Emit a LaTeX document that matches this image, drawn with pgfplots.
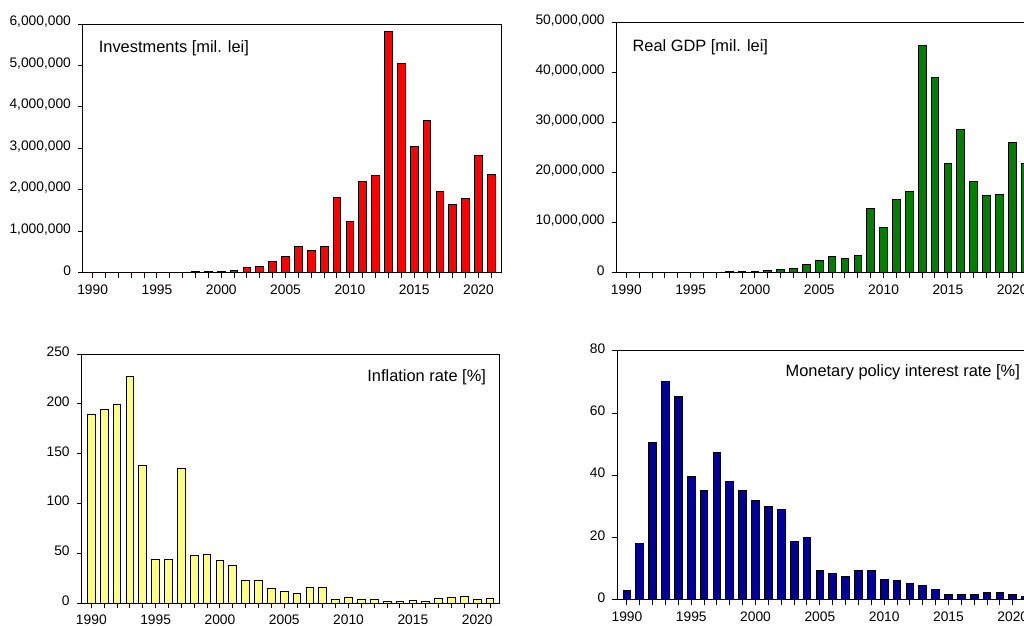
\documentclass[border=0pt]{standalone}
\usepackage{fontspec}
\setmainfont{Liberation Sans}
\usepackage{pgfplots}
\pgfplotsset{compat=1.18}
\definecolor{barred}{HTML}{FF0000}
\definecolor{bargreen}{HTML}{007F00}
\definecolor{baryellow}{HTML}{FFFF80}
\definecolor{barblue}{HTML}{000099}
\pgfplotsset{
  panel/.style={
    scale only axis,
    width=209pt,
    anchor=south west,
    xmin=1989.25, xmax=2021.75,
    ymin=0,
    axis line style={line width=0.5pt},
    xtick={1990,1995,...,2020},
    minor xtick={1990,...,2021},
    xtick pos=bottom, ytick pos=left,
    tick align=outside,
    major tick length=2.5pt, minor tick length=2.5pt,
    tick style={black, line width=0.5pt},
    /pgf/number format/assume math mode=true,
    tick label style={font=\fontsize{6.9}{8}\selectfont},
    xticklabel style={/pgf/number format/1000 sep={}},
    yticklabel style={yshift=1.2pt, /pgf/number format/.cd, fixed, 1000 sep={,}},
    scaled y ticks=false,
    ybar, bar width=0.6,
    every axis plot/.append style={draw=black, line width=0.5pt},
  },
}
\tikzset{ttl/.style={font=\fontsize{8.2}{10}\selectfont, inner sep=0pt}}
\begin{document}
\begin{tikzpicture}
\useasboundingbox (0,0) rectangle (512pt,313pt);
\clip (0,0) rectangle (512pt,313pt);

% Investments
\begin{axis}[panel, at={(41.5pt,176.5pt)}, height=124.5pt,
  ymax=6000000, ytick={0,1000000,...,6000000}]
\addplot[fill=barred] coordinates {
(1990,0) (1991,0) (1992,0) (1993,0) (1994,0) (1995,0) (1996,0) (1997,0)
(1998,30000) (1999,35000) (2000,45000) (2001,65000) (2002,130000) (2003,160000)
(2004,280000) (2005,400000) (2006,650000) (2007,540000) (2008,630000)
(2009,1830000) (2010,1230000) (2011,2210000) (2012,2350000) (2013,5820000)
(2014,5050000) (2015,3040000) (2016,3670000) (2017,1960000) (2018,1640000)
(2019,1800000) (2020,2840000) (2021,2380000)};
\node[ttl, anchor=base west] at (rel axis cs:0.037,0.885) {Investments [mil. lei]};
\end{axis}

% Real GDP
\begin{axis}[panel, at={(308.35pt,176.5pt)}, height=125pt,
  ymax=50000000, ytick={0,10000000,...,50000000}]
\addplot[fill=bargreen] coordinates {
(1990,0) (1991,0) (1992,0) (1993,0) (1994,0) (1995,0) (1996,0) (1997,0)
(1998,220000) (1999,260000) (2000,330000) (2001,450000) (2002,730000) (2003,930000)
(2004,1600000) (2005,2400000) (2006,3270000) (2007,2800000) (2008,3400000)
(2009,12950000) (2010,9150000) (2011,14750000) (2012,16350000) (2013,45400000)
(2014,39100000) (2015,21800000) (2016,28700000) (2017,18300000) (2018,15400000)
(2019,15600000) (2020,26000000) (2021,21900000)};
\node[ttl, anchor=base west] at (rel axis cs:0.037,0.885) {Real GDP [mil. lei]};
\end{axis}

% Inflation
\begin{axis}[panel, at={(40.85pt,11.35pt)}, height=124.6pt,
  ymax=250, ytick={0,50,...,250}]
\addplot[fill=baryellow] coordinates {
(1990,189.5) (1991,194.9) (1992,199.5) (1993,227.3) (1994,138.7) (1995,43.8)
(1996,43.8) (1997,135.0) (1998,47.8) (1999,48.8) (2000,42.8) (2001,37.8)
(2002,22.4) (2003,23.1) (2004,15.0) (2005,11.7) (2006,10.0) (2007,15.7)
(2008,15.7) (2009,4.0) (2010,5.7) (2011,4.0) (2012,3.7) (2013,1.3)
(2014,1.7) (2015,3.0) (2016,2.3) (2017,4.7) (2018,6.0) (2019,6.7)
(2020,4.0) (2021,5.0)};
\node[ttl, anchor=base east] at (rel axis cs:0.968,0.89) {Inflation rate [\%]};
\end{axis}

% Monetary policy rate
\begin{axis}[panel, at={(308.65pt,13pt)}, height=124.65pt,
  ymax=80, ytick={0,20,...,80}]
\addplot[fill=barblue] coordinates {
(1990,3.0) (1991,18.0) (1992,50.5) (1993,70.0) (1994,65.3) (1995,39.6)
(1996,35.0) (1997,47.2) (1998,38.0) (1999,35.0) (2000,32.0) (2001,29.9)
(2002,29.0) (2003,18.8) (2004,20.2) (2005,9.6) (2006,8.4) (2007,7.4)
(2008,9.5) (2009,9.4) (2010,6.6) (2011,6.2) (2012,5.2) (2013,4.8)
(2014,3.3) (2015,1.9) (2016,1.7) (2017,1.7) (2018,2.4) (2019,2.5)
(2020,1.8) (2021,1.2)};
\node[ttl, anchor=base east] at (rel axis cs:0.964,0.896) {Monetary policy interest rate [\%]};
\end{axis}
\end{tikzpicture}
\end{document}
